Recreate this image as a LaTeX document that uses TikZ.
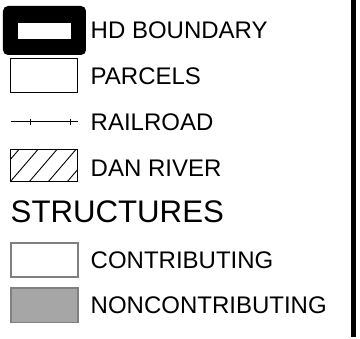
\documentclass[tikz,border=0pt]{standalone}
\usepackage{fontspec}
\setmainfont{Liberation Sans}
\usetikzlibrary{positioning, calc}
\definecolor{ncgray}{RGB}{166,166,166}
\definecolor{edgegray}{RGB}{128,128,128}
\tikzset{
  lbl/.style = {anchor=base west, inner sep=0pt, font=\fontsize{24}{28}\selectfont},
  head/.style = {anchor=base west, inner sep=0pt, font=\fontsize{31.2}{36}\selectfont},
  symbox/.style = {draw, line width=1pt},
}
\begin{document}
\begin{tikzpicture}[x=1pt, y=-1pt]
    \useasboundingbox (0,0) rectangle (360,339);
    % right frame line
    \draw[line width=5pt] (353.5,0) -- (353.5,337);
    % hd boundary
    \fill[rounded corners=5pt] (3,6) rectangle (86,55);
    \fill[white] (18,23) rectangle (71,39);
    \node[lbl] (hd) at (90.5,39) {HD BOUNDARY};
    % parcels
    \draw[symbox] (11,59) rectangle (78,92.5);
    \node[lbl] (parcels) at (90.5,85) {PARCELS};
    % railroad
    \draw[line width=1pt] (11,122) -- (78,122);
    \draw[line width=1pt] (31,119) -- (31,125);
    \draw[line width=1pt] (71,119) -- (71,125);
    \node[lbl] (railroad) at (90.5,131) {RAILROAD};
    % dan river, hatched
    \begin{scope}
        \clip (11,150) rectangle (78,182);
        \foreach \b in {-9,10,29,48,67}
            \draw[line width=0.9pt] (\b,182) -- (\b+27.5,150);
    \end{scope}
    \draw[symbox] (11,150) rectangle (78,182);
    \node[lbl] (river) at (90.5,177) {DAN RIVER};
    % structures
    \node[head] (structures) at (10.5,223) {STRUCTURES};
    \draw[edgegray, line width=1.5pt] (11,243) rectangle (78,277);
    \node[lbl] (contrib) at (90.5,269) {CONTRIBUTING};
    \draw[edgegray, fill=ncgray, line width=1.5pt] (11,288) rectangle (78,322.5);
    \node[lbl] (noncontrib) at (90.5,313.5) {NONCONTRIBUTING};
\end{tikzpicture}
\end{document}
